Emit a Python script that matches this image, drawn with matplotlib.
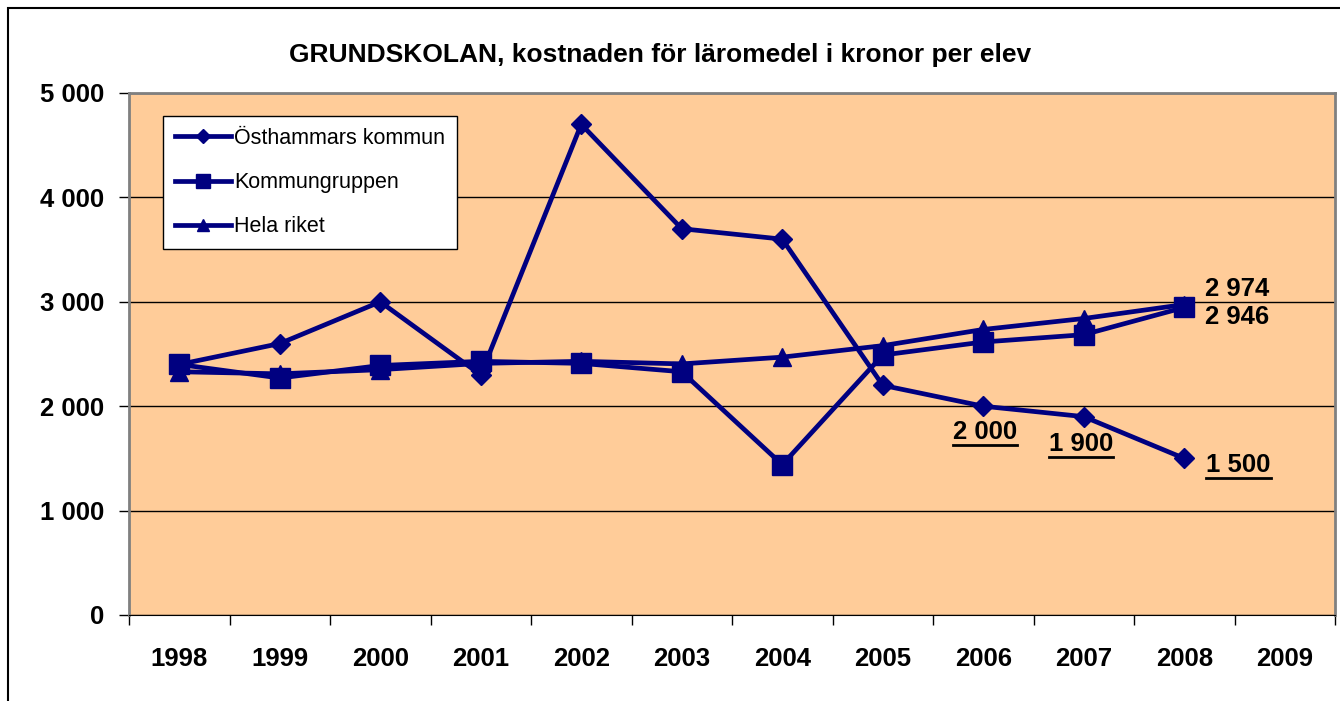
import matplotlib
matplotlib.use('Agg')
import matplotlib.pyplot as plt
from matplotlib.lines import Line2D
from matplotlib.patches import Rectangle

plt.rcParams['font.family'] = ['Liberation Sans', 'DejaVu Sans']

years = ['1998', '1999', '2000', '2001', '2002', '2003', '2004', '2005', '2006', '2007', '2008', '2009']
osthammar = [2400, 2600, 3000, 2300, 4700, 3700, 3600, 2200, 2000, 1900, 1500]
kommungruppen = [2400, 2270, 2390, 2430, 2410, 2330, 1440, 2490, 2615, 2685, 2946]
hela_riket = [2330, 2310, 2350, 2410, 2430, 2405, 2470, 2580, 2735, 2840, 2974]

navy = '#000080'

fig = plt.figure(figsize=(13.4, 7.01), dpi=100)
# yttre ram
fig.patches.append(Rectangle((8 / 1340, -0.1), 1.2, 1.1 - 8 / 701,
                             transform=fig.transFigure, fill=False,
                             edgecolor='black', linewidth=1.5))

ax = fig.add_axes([129 / 1340, 1 - 615 / 701, 1206 / 1340, (615 - 93) / 701])
ax.set_facecolor('#FFCC99')

x = list(range(len(osthammar)))
ax.plot(x, osthammar, color=navy, lw=3.4, marker='D', ms=10.5, label='Östhammars kommun')
ax.plot(x, kommungruppen, color=navy, lw=3.4, marker='s', ms=15, label='Kommungruppen')
ax.plot(x, hela_riket, color=navy, lw=3.4, marker='^', ms=13, label='Hela riket')

ax.set_xlim(-0.5, len(years) - 0.5)
ax.set_ylim(0, 5000)
ax.set_xticks(range(len(years)))
ax.set_xticklabels(years, fontsize=18.5, fontweight='bold')
ax.set_xticks([i - 0.5 for i in range(len(years) + 1)], minor=True)
ax.tick_params(axis='x', which='major', length=0, pad=23)
ax.tick_params(axis='x', which='minor', length=7, width=1, direction='out')
ax.set_yticks([0, 1000, 2000, 3000, 4000, 5000])
ax.set_yticklabels([f'{v:,}'.replace(',', ' ') for v in [0, 1000, 2000, 3000, 4000, 5000]],
                   fontsize=18.5, fontweight='bold')
ax.tick_params(axis='y', length=7, width=1, pad=11)
ax.grid(axis='y', color='black', lw=1)
ax.set_axisbelow(True)

for s in ['left', 'top', 'right']:
    ax.spines[s].set_color('#808080')
    ax.spines[s].set_linewidth(2)
ax.spines['bottom'].set_color('black')

fig.text(660 / 1340, 1 - 55 / 701, 'GRUNDSKOLAN, kostnaden för läromedel i kronor per elev',
         ha='center', va='center', fontsize=19, fontweight='bold')

leg = ax.legend(loc='upper left', bbox_to_anchor=(34 / 1206, 1 - 23 / 522), fontsize=15.5,
                frameon=True, fancybox=False, edgecolor='black', framealpha=1,
                handlelength=2.6, handletextpad=0.15, labelspacing=1.08, borderpad=0.55,
                borderaxespad=0, markerscale=0.65)
leg.get_frame().set_linewidth(1)

# etiketter vid punkterna
plain = [('2 974', 10, hela_riket[10], 21, 16, 'left'),
         ('2 946', 10, kommungruppen[10], 21, -10, 'left')]
for txt, xi, yv, dx, dy, ha in plain:
    ax.annotate(txt, (xi, yv), xytext=(dx, dy), textcoords='offset pixels',
                ha=ha, va='center', fontsize=18.5, fontweight='bold')

underlined = [('2 000', 8, osthammar[8], 2, -26, 'center'),
              ('1 900', 9, osthammar[9], -3, -27, 'center'),
              ('1 500', 10, osthammar[10], 22, -7, 'left')]
texts = []
for txt, xi, yv, dx, dy, ha in underlined:
    t = ax.annotate(txt, (xi, yv), xytext=(dx, dy), textcoords='offset pixels',
                    ha=ha, va='center', fontsize=18.5, fontweight='bold')
    texts.append(t)

fig.canvas.draw()
r = fig.canvas.get_renderer()
for t in texts:
    bb = t.get_window_extent(r)
    y0 = (bb.y0 - 1) / fig.bbox.height
    fig.add_artist(Line2D([bb.x0 / fig.bbox.width, bb.x1 / fig.bbox.width], [y0, y0],
                          transform=fig.transFigure, color='black', lw=2))

fig.savefig('out.png', dpi=100)
